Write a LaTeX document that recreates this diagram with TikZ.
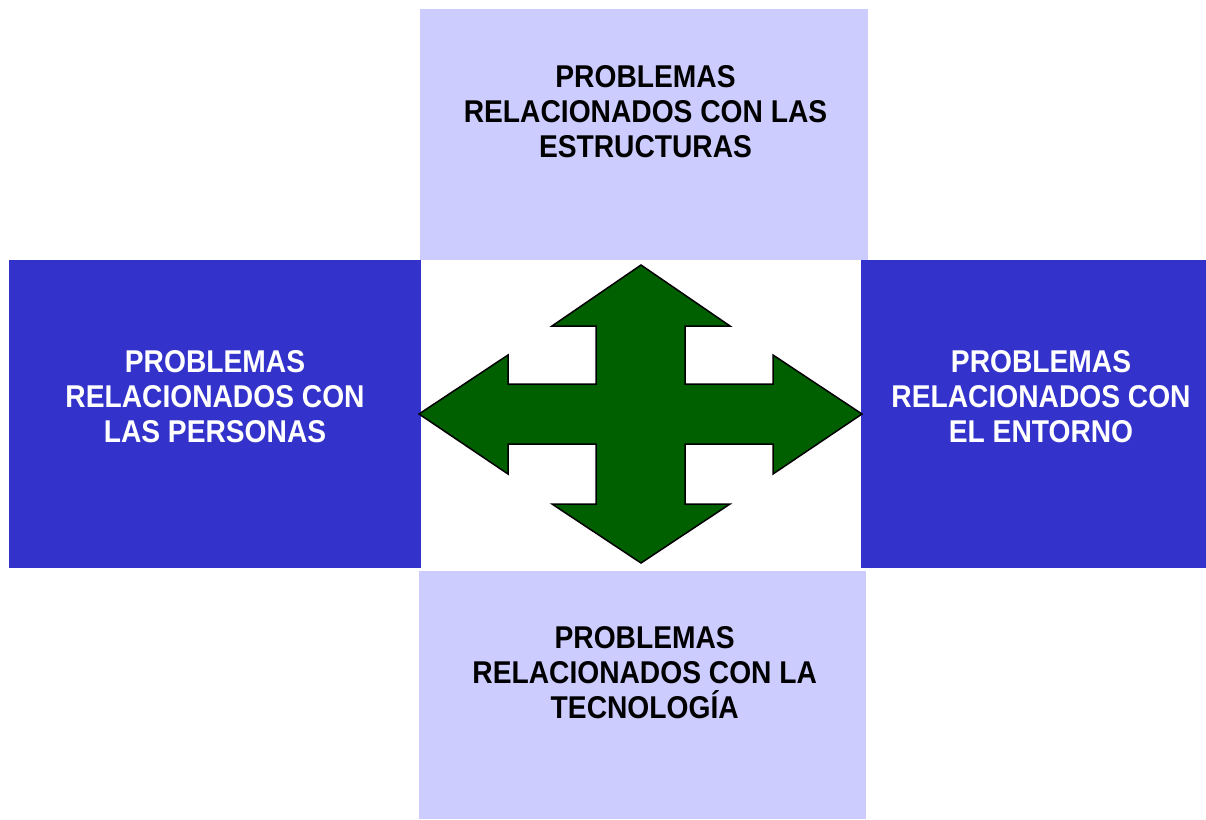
\documentclass[tikz,border=0pt]{standalone}
\usepackage{fontspec}
\setmainfont{Liberation Sans}[FakeStretch=0.895]
\definecolor{lav}{HTML}{CCCCFF}
\definecolor{boxblue}{HTML}{3333CC}
\definecolor{arrowgreen}{HTML}{006000}
\begin{document}
\begin{tikzpicture}[x=1pt,y=-1pt,
  lbl/.style={align=center,inner sep=0pt,font=\fontsize{31.5}{35}\selectfont\bfseries},
  lightbox/.style={fill=lav},
  darkbox/.style={fill=boxblue},
  quad/.style={fill=arrowgreen,draw=black,line width=1.5pt}]
\useasboundingbox (0,0) rectangle (1206,819);
\fill[white] (0,0) rectangle (1206,819);
% boxes
\fill[lightbox] (420,9) rectangle (868,260);
\fill[darkbox] (9,260) rectangle (421,568);
\fill[darkbox] (861,260) rectangle (1206,568);
\fill[lightbox] (419,571) rectangle (866,819);
% four-way arrow
\draw[quad] (641,265) -- (730,326) -- (685,326) -- (685,384) -- (773,384) -- (773,355)
  -- (862,414) -- (773,474) -- (773,444) -- (685,444) -- (685,504) -- (730,504)
  -- (641,563) -- (552,504) -- (596,504) -- (596,444) -- (508,444) -- (508,474)
  -- (419,414) -- (508,355) -- (508,384) -- (596,384) -- (596,326) -- (552,326) -- cycle;
% labels
\node[lbl,text=black] (estructuras) at (645.5,111.5) {PROBLEMAS\\RELACIONADOS CON LAS\\ESTRUCTURAS};
\node[lbl,text=white] (personas) at (215,397) {PROBLEMAS\\RELACIONADOS CON\\LAS PERSONAS};
\node[lbl,text=white] (entorno) at (1041,397) {PROBLEMAS\\RELACIONADOS CON\\EL ENTORNO};
\node[lbl,text=black] (tecnologia) at (644.7,672.5) {PROBLEMAS\\RELACIONADOS CON LA\\TECNOLOGÍA};
\end{tikzpicture}
\end{document}
